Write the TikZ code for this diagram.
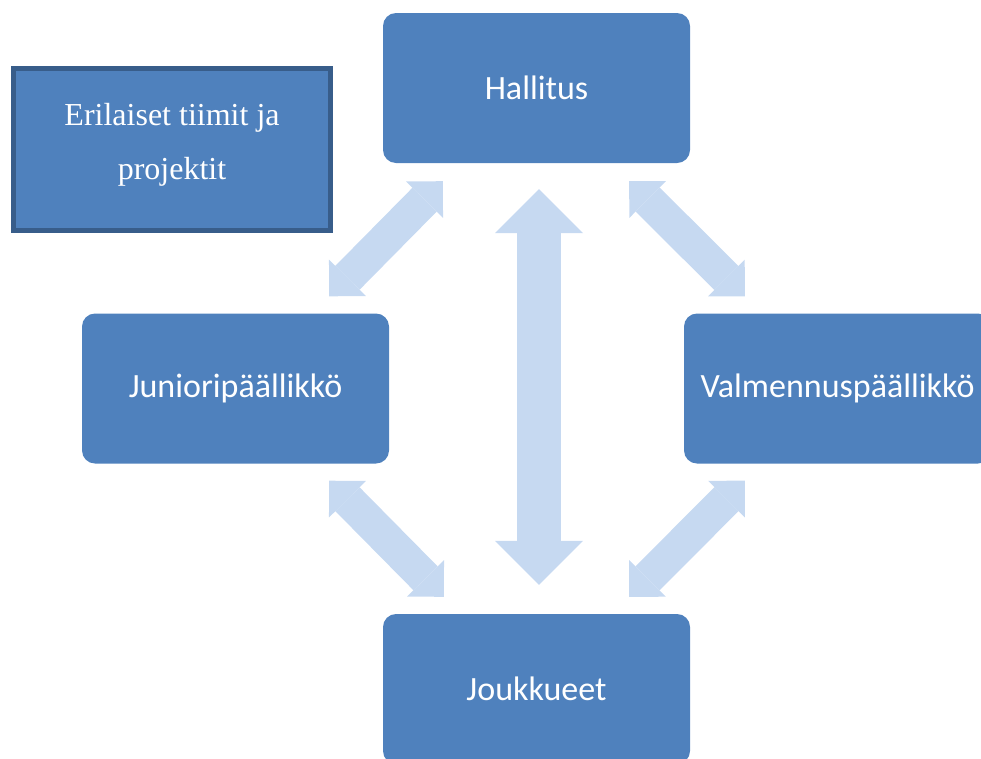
\documentclass[tikz,border=0pt]{standalone}
\usepackage{fontspec}
\setmainfont{Liberation Serif}
\newfontfamily\orgfont{Carlito}
\usepackage{tikz}
\usetikzlibrary{arrows.meta,positioning,calc}
\definecolor{orgblue}{HTML}{4F81BD}
\definecolor{orgedge}{HTML}{385D8A}
\definecolor{linkblue}{HTML}{C6D9F1}

\begin{document}
\begin{tikzpicture}[x=1pt, y=-1pt,
    orgbox/.style={fill=orgblue, rounded corners=13pt, minimum width=307pt,
      minimum height=150pt, inner sep=0pt, text=white,
      font=\orgfont\fontsize{34}{40}\selectfont},
    bigarrow/.style={draw=linkblue, line width=44pt,
      {Triangle[width=88pt,length=44pt,line width=0pt]}-{Triangle[width=88pt,length=44pt,line width=0pt]}},
    smallarrow/.style={draw=linkblue, line width=34pt,
      {Triangle[width=52pt,length=26pt,line width=0pt]}-{Triangle[width=52pt,length=26pt,line width=0pt]}}]
  \clip (0,0) rectangle (981,758);

  \node[orgbox] (hallitus) at (536.5,88) {Hallitus};
  \node[orgbox] (junior) at (235.5,388.5) {Junioripäällikkö};
  \node[orgbox] (valmennus) at (837.5,388.5) {Valmennuspäällikkö};
  \node[orgbox] (joukkueet) at (536.5,689) {Joukkueet};

  \node[fill=orgblue, draw=orgedge, line width=5pt, minimum width=317pt,
    minimum height=162pt, text=white, align=center, text depth=17pt,
    font=\fontsize{32}{54}\selectfont] (tiimit) at (172,149.5)
    {Erilaiset tiimit ja\\projektit};

  % links between the boxes
  \coordinate (hj) at ($(hallitus.south west)+(60,18)$);
  \coordinate (jh) at ($(junior.north east)+(-60,-17)$);
  \coordinate (hv) at ($(hallitus.south east)+(-61,18)$);
  \coordinate (vh) at ($(valmennus.north west)+(61,-17)$);
  \coordinate (jk) at ($(junior.south east)+(-60,17)$);
  \coordinate (kj) at ($(joukkueet.north west)+(61,-17)$);
  \coordinate (vk) at ($(valmennus.south west)+(61,17)$);
  \coordinate (kv) at ($(joukkueet.north east)+(-61,-17)$);
  \coordinate (hk) at ($(hallitus.south)+(2.5,26)$);
  \coordinate (kh) at ($(joukkueet.north)+(2.5,-29)$);

  \draw[smallarrow] (hj) -- (jh);
  \draw[smallarrow] (hv) -- (vh);
  \draw[smallarrow] (jk) -- (kj);
  \draw[smallarrow] (vk) -- (kv);
  \draw[bigarrow] (hk) -- (kh);
\end{tikzpicture}
\end{document}
